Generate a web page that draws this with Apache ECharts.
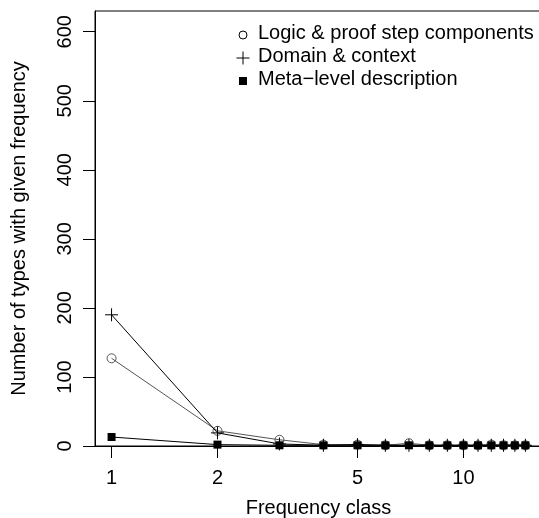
<!DOCTYPE html>
<html>
<head>
<meta charset="utf-8">
<script src="https://cdn.jsdelivr.net/npm/echarts@6/dist/echarts.min.js"></script>
<style>
  html, body { margin: 0; padding: 0; background: #fff; }
  #chart { width: 539px; height: 518px; }
</style>
</head>
<body>
<div id="chart"></div>
<script>
// Frequency classes (number of occurrences of a type)
const freqClass = [1, 2, 3, 4, 5, 6, 7, 8, 9, 10, 11, 12, 13, 14, 15];

// Number of types per frequency class, for each annotation category
const logicProof = [127, 22, 9, 2, 2, 1, 4, 1, 1, 1, 1, 2, 1, 1, 1];
const domainContext = [190, 19, 3, 1, 2, 1, 1, 1, 1, 1, 1, 1, 1, 1, 1];
const metaLevel = [13, 2, 1, 1, 1, 1, 1, 1, 1, 1, 1, 1, 1, 1, 1];

const seriesNames = ['Logic & proof step components', 'Domain & context', 'Meta\u2212level description'];

// Axis ticks
const xTicks = [1, 2, 5, 10];
const yTicks = [0, 100, 200, 300, 400, 500, 600];

const FONT = '"Liberation Sans", Arial, Helvetica, sans-serif';
const FS = 20;

const pairs = (ys) => freqClass.map((x, i) => [x, ys[i]]);
const plusPath = 'path://M0,5 L10,5 M5,0 L5,10';

const chart = echarts.init(document.getElementById('chart'), null, { renderer: 'canvas' });

chart.setOption({
  animation: false,
  backgroundColor: '#fff',
  grid: {
    left: 95, top: 11, right: -3, bottom: 72,
    containLabel: false,
    outerBoundsMode: 'none',
    show: true, borderColor: '#000', borderWidth: 1, backgroundColor: 'transparent'
  },
  xAxis: {
    type: 'log',
    logBase: 10,
    min: 0.8973,
    max: 16.72,
    name: 'Frequency class',
    nameLocation: 'middle',
    nameGap: 52,
    nameTextStyle: { fontFamily: FONT, fontSize: FS, color: '#000' },
    axisLine: { show: true, lineStyle: { color: '#000', width: 1 } },
    axisTick: { show: true, inside: false, length: 12, customValues: xTicks, lineStyle: { color: '#000' } },
    axisLabel: { show: true, customValues: xTicks, margin: 22, fontFamily: FONT, fontSize: FS, color: '#000',
                 formatter: (v) => String(Math.round(v)) },
    splitLine: { show: false },
    minorTick: { show: false },
    minorSplitLine: { show: false }
  },
  yAxis: {
    type: 'value',
    min: 0,
    max: 630,
    name: 'Number of types with given frequency',
    nameLocation: 'middle',
    nameGap: 66,
    nameRotate: 90,
    nameTextStyle: { fontFamily: FONT, fontSize: FS, color: '#000' },
    axisLine: { show: true, lineStyle: { color: '#000', width: 1 } },
    axisTick: { show: true, inside: false, length: 12, customValues: yTicks, lineStyle: { color: '#000' } },
    axisLabel: { show: true, customValues: yTicks, rotate: 90, margin: 20, fontFamily: FONT, fontSize: FS, color: '#000' },
    splitLine: { show: false }
  },
  series: [
    {
      name: seriesNames[0],
      type: 'line',
      data: pairs(logicProof),
      symbol: 'circle',
      symbolSize: 9,
      z: 2,
      lineStyle: { color: '#555', width: 1 },
      itemStyle: { color: 'transparent', borderColor: '#555', borderWidth: 1 }
    },
    {
      name: seriesNames[1],
      type: 'line',
      data: pairs(domainContext),
      symbol: plusPath,
      symbolSize: 13,
      z: 3,
      lineStyle: { color: '#000', width: 1 },
      itemStyle: { color: 'none', borderColor: '#000', borderWidth: 1 }
    },
    {
      name: seriesNames[2],
      type: 'line',
      data: pairs(metaLevel),
      symbol: 'rect',
      symbolSize: 8,
      z: 4,
      lineStyle: { color: '#000', width: 1 },
      itemStyle: { color: '#000', borderWidth: 0 }
    }
  ],
  graphic: [
    { type: 'circle', shape: { cx: 243, cy: 35, r: 4 }, style: { fill: 'none', stroke: '#000', lineWidth: 1 } },
    { type: 'text', left: 258, top: 35 - FS * 0.6, style: { text: seriesNames[0], font: FS + 'px ' + FONT, fill: '#000' } },
    { type: 'line', shape: { x1: 236.5, y1: 58, x2: 249.5, y2: 58 }, style: { stroke: '#000', lineWidth: 1 } },
    { type: 'line', shape: { x1: 243, y1: 51.5, x2: 243, y2: 64.5 }, style: { stroke: '#000', lineWidth: 1 } },
    { type: 'text', left: 258, top: 58 - FS * 0.6, style: { text: seriesNames[1], font: FS + 'px ' + FONT, fill: '#000' } },
    { type: 'rect', shape: { x: 239, y: 77, width: 8, height: 8 }, style: { fill: '#000' } },
    { type: 'text', left: 258, top: 81 - FS * 0.6, style: { text: seriesNames[2], font: FS + 'px ' + FONT, fill: '#000' } }
  ]
});
</script>
</body>
</html>
